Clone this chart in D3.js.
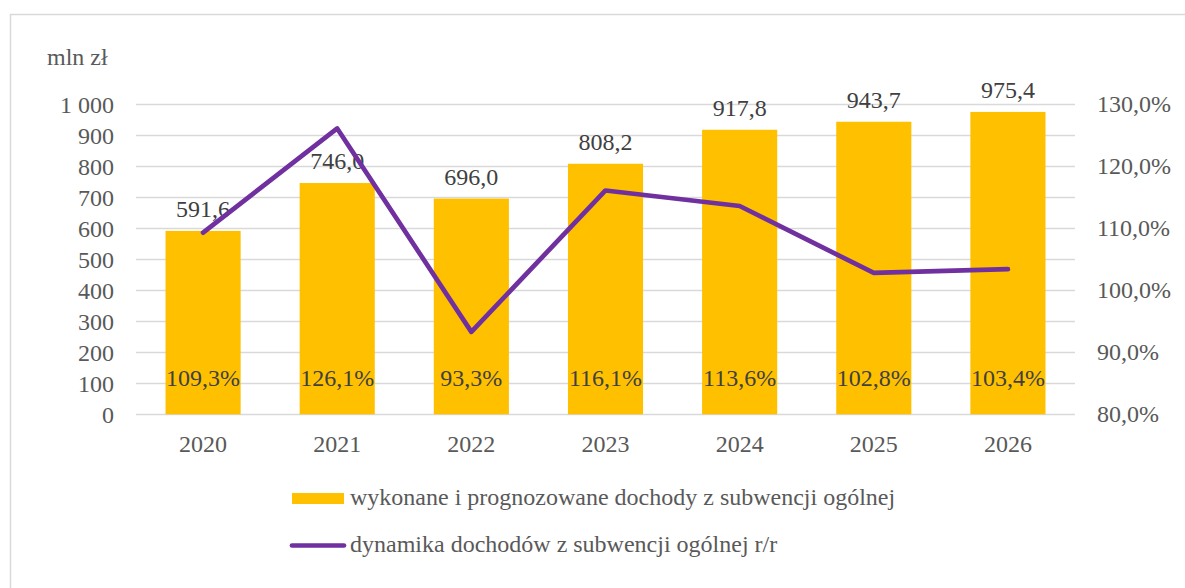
<!DOCTYPE html>
<html>
<head>
<meta charset="utf-8">
<script src="https://cdn.jsdelivr.net/npm/d3@7"></script>
<style>
  body { margin: 0; background: #fff; }
</style>
</head>
<body>
<div id="chart"></div>
<script>
var years = ["2020", "2021", "2022", "2023", "2024", "2025", "2026"];
var dochody = [591.6, 746.0, 696.0, 808.2, 917.8, 943.7, 975.4];
var dynamika = [109.3, 126.1, 93.3, 116.1, 113.6, 102.8, 103.4];
var leftTicks = [0, 100, 200, 300, 400, 500, 600, 700, 800, 900, 1000];
var rightTicks = [80, 90, 100, 110, 120, 130];
var legendLabels = ["wykonane i prognozowane dochody z subwencji ogólnej",
                    "dynamika dochodów z subwencji ogólnej r/r"];

var W = 1185, H = 588;
var plotL = 136, plotR = 1075, plotT = 104.3, plotB = 414.3;

var svg = d3.select("#chart").append("svg")
  .attr("width", W).attr("height", H);

// outer frame
svg.append("rect")
  .attr("x", 10.5).attr("y", 14.5)
  .attr("width", 1190).attr("height", 600)
  .style("fill", "none").style("stroke", "#d9d9d9").style("stroke-width", 1.5);

var x = d3.scaleBand().domain(years).range([plotL, plotR]).paddingInner(0.44).paddingOuter(0.22);
var y = d3.scaleLinear().domain([0, 1000]).range([plotB, plotT]);
var y2 = d3.scaleLinear().domain([80, 130]).range([plotB, plotT]);

var fmt1 = function(v) { return d3.format(".1f")(v).replace(".", ","); };
var fmtK = function(v) { return d3.format(",")(v).replace(/,/g, " "); };
var cx = function(i) { return x(years[i]) + x.bandwidth() / 2; };

// every text gets its font inline
function txt(sel, color) {
  return sel
    .style("font-family", "Liberation Serif")
    .style("font-size", "24px")
    .style("fill", color || "#595959");
}

// gridlines
svg.selectAll(".grid")
  .data(leftTicks)
  .enter().append("line")
  .attr("class", "grid")
  .attr("x1", plotL).attr("x2", plotR)
  .attr("y1", function(d) { return Math.round(y(d)) + 0.5; })
  .attr("y2", function(d) { return Math.round(y(d)) + 0.5; })
  .style("stroke", "#d9d9d9").style("stroke-width", 1.3);

// left tick labels
svg.selectAll(".ylabel")
  .data(leftTicks)
  .enter().append("text")
  .attr("class", "ylabel")
  .attr("x", 114)
  .attr("y", function(d) { return y(d) + 8.5; })
  .attr("text-anchor", "end")
  .call(txt)
  .text(fmtK);

// right tick labels
svg.selectAll(".y2label")
  .data(rightTicks)
  .enter().append("text")
  .attr("class", "y2label")
  .attr("x", 1097)
  .attr("y", function(d) { return y2(d) + 8; })
  .call(txt)
  .text(function(d) { return fmt1(d) + "%"; });

svg.append("text")
  .attr("x", 47).attr("y", 65)
  .call(txt)
  .text("mln zł");

// bars
svg.selectAll(".bar")
  .data(dochody)
  .enter().append("rect")
  .attr("class", "bar")
  .attr("x", function(d, i) { return x(years[i]); })
  .attr("y", function(d) { return y(d); })
  .attr("width", x.bandwidth())
  .attr("height", function(d) { return plotB - y(d); })
  .style("fill", "#ffc000");

// bar value labels
svg.selectAll(".blabel")
  .data(dochody)
  .enter().append("text")
  .attr("class", "blabel")
  .attr("x", function(d, i) { return cx(i); })
  .attr("y", function(d) { return y(d) - 14; })
  .attr("text-anchor", "middle")
  .call(txt, "#404040")
  .text(fmt1);

// x labels
svg.selectAll(".xlabel")
  .data(years)
  .enter().append("text")
  .attr("class", "xlabel")
  .attr("x", function(d, i) { return cx(i); })
  .attr("y", 452)
  .attr("text-anchor", "middle")
  .call(txt)
  .text(function(d) { return d; });

// line
var line = d3.line()
  .x(function(d, i) { return cx(i); })
  .y(function(d) { return y2(d); });

svg.append("path")
  .datum(dynamika)
  .attr("d", line)
  .style("fill", "none")
  .style("stroke", "#7030a0")
  .style("stroke-width", 4.7)
  .style("stroke-linejoin", "round")
  .style("stroke-linecap", "round");

// line labels (inside bars)
svg.selectAll(".plabel")
  .data(dynamika)
  .enter().append("text")
  .attr("class", "plabel")
  .attr("x", function(d, i) { return cx(i); })
  .attr("y", 386)
  .attr("text-anchor", "middle")
  .call(txt, "#404040")
  .text(function(d) { return fmt1(d) + "%"; });

// legend
svg.append("rect")
  .attr("x", 292).attr("y", 493)
  .attr("width", 52).attr("height", 11)
  .style("fill", "#ffc000");
svg.append("text")
  .attr("x", 350).attr("y", 505)
  .call(txt)
  .text(legendLabels[0]);

svg.append("line")
  .attr("x1", 292).attr("x2", 344)
  .attr("y1", 545.5).attr("y2", 545.5)
  .style("stroke", "#7030a0").style("stroke-width", 4.7)
  .style("stroke-linecap", "round");
svg.append("text")
  .attr("x", 350).attr("y", 552)
  .call(txt)
  .text(legendLabels[1]);
</script>
</body>
</html>
